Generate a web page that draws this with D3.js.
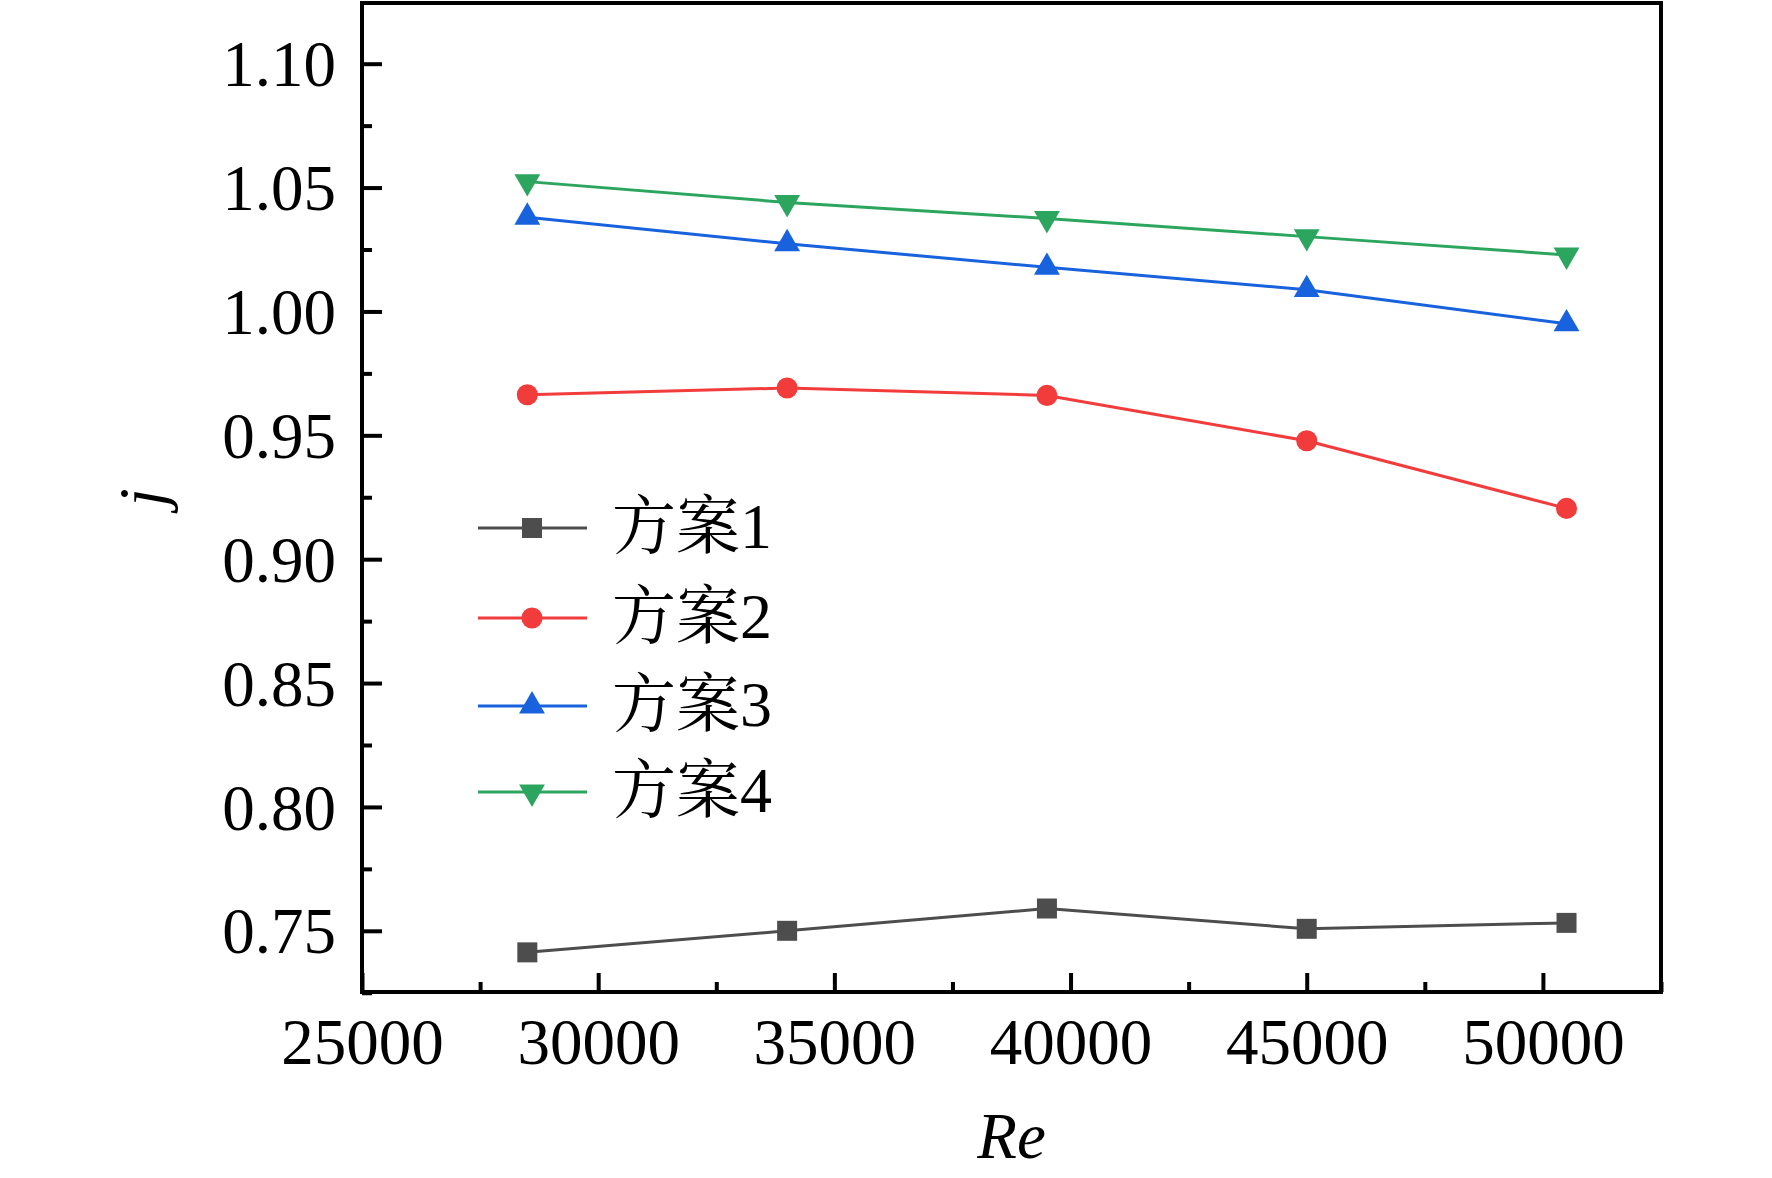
<!DOCTYPE html>
<html>
<head>
<meta charset="utf-8">
<script src="https://cdn.jsdelivr.net/npm/d3@7/dist/d3.min.js"></script>
<style>
  html, body { margin: 0; padding: 0; background: #fff; }
  svg { display: block; }
  text { font-family: 'Liberation Serif', 'Times New Roman', 'Noto Serif CJK SC', 'Noto Sans CJK SC', serif; fill: #000; }
</style>
</head>
<body>
<script>
// ---- data ----
const reValues = [28500, 34000, 39500, 45000, 50500];
const seriesNames = ["方案1", "方案2", "方案3", "方案4"];
const scheme1 = [0.7413, 0.7500, 0.7590, 0.7508, 0.7532];
const scheme2 = [0.9664, 0.9691, 0.9661, 0.9478, 0.9205];
const scheme3 = [1.0380, 1.0273, 1.0178, 1.0088, 0.9950];
const scheme4 = [1.0524, 1.0440, 1.0375, 1.0302, 1.0228];
const xTicks = [25000, 30000, 35000, 40000, 45000, 50000];
const yTicks = [0.75, 0.80, 0.85, 0.90, 0.95, 1.00, 1.05, 1.10];
const xMinor = [27500, 32500, 37500, 42500, 47500, 52500];
const yMinor = [0.725, 0.775, 0.825, 0.875, 0.925, 0.975, 1.025, 1.075];

const W = 1772, H = 1178;
const L = 362, R = 1661, T = 3, B = 992;

const svg = d3.select("body").append("svg").attr("width", W).attr("height", H);

const x = d3.scaleLinear().domain([25000, 52500]).range([L, R]);
const y = d3.scaleLinear().domain([0.7253, 1.1245]).range([B, T]);

const colors = ["#4d4d4d", "#f23c3c", "#1862dd", "#2ca55e"];
const symbols = [
  d3.symbol().type(d3.symbolSquare).size(400),
  d3.symbol().type(d3.symbolCircle).size(350),
  d3.symbol().type(d3.symbolTriangle).size(290),
  d3.symbol().type(d3.symbolTriangle).size(290)
];
const rotations = [0, 0, 0, 180];
const allSeries = [scheme1, scheme2, scheme3, scheme4];

// ---- series ----
const line = d3.line().x((d, i) => x(reValues[i])).y(d => y(d));
allSeries.forEach((vals, si) => {
  const g = svg.append("g");
  g.append("path").datum(vals)
    .attr("d", line)
    .attr("fill", "none")
    .attr("stroke", colors[si])
    .attr("stroke-width", 3);
  g.selectAll("path.m").data(vals).enter().append("path")
    .attr("class", "m")
    .attr("d", symbols[si])
    .attr("fill", colors[si])
    .attr("transform", (d, i) => `translate(${x(reValues[i])},${y(d)}) rotate(${rotations[si]})`);
});

// ---- axes ----
const xAxis = d3.axisBottom(x).tickValues(xTicks).tickSize(-19).tickPadding(0).tickFormat(d3.format("d"));
const gx = svg.append("g").attr("transform", `translate(0,${B})`).call(xAxis);
gx.select(".domain").remove();
gx.selectAll(".tick line").attr("stroke", "#000").attr("stroke-width", 4);
gx.selectAll(".tick text").attr("font-size", 65).attr("dy", null).attr("y", 72);

const xAxisMinor = d3.axisBottom(x).tickValues(xMinor).tickSize(-10).tickFormat("");
const gxm = svg.append("g").attr("transform", `translate(0,${B})`).call(xAxisMinor);
gxm.select(".domain").remove();
gxm.selectAll(".tick line").attr("stroke", "#000").attr("stroke-width", 4);

const yAxis = d3.axisLeft(y).tickValues(yTicks).tickSize(-20).tickPadding(0).tickFormat(d3.format(".2f"));
const gy = svg.append("g").attr("transform", `translate(${L},0)`).call(yAxis);
gy.select(".domain").remove();
gy.selectAll(".tick line").attr("stroke", "#000").attr("stroke-width", 4);
gy.selectAll(".tick text").attr("font-size", 65).attr("x", -26).attr("dy", "0.34em");

const yAxisMinor = d3.axisLeft(y).tickValues(yMinor).tickSize(-10).tickFormat("");
const gym = svg.append("g").attr("transform", `translate(${L},0)`).call(yAxisMinor);
gym.select(".domain").remove();
gym.selectAll(".tick line").attr("stroke", "#000").attr("stroke-width", 4);

// frame
svg.append("rect")
  .attr("x", L).attr("y", T).attr("width", R - L).attr("height", B - T)
  .attr("fill", "none").attr("stroke", "#000").attr("stroke-width", 4);

// axis titles
svg.append("text").attr("x", (L + R) / 2).attr("y", 1158)
  .attr("text-anchor", "middle").attr("font-size", 65).attr("font-style", "italic").text("Re");
svg.append("text").attr("transform", `translate(164,${(T + B) / 2}) rotate(-90)`)
  .attr("text-anchor", "middle").attr("font-size", 65).attr("font-style", "italic").text("j");

// ---- legend ----
const legendRows = [528, 618, 706, 792];
seriesNames.forEach((name, si) => {
  const g = svg.append("g").attr("transform", `translate(0,${legendRows[si]})`);
  g.append("line").attr("x1", 478).attr("x2", 587).attr("y1", 0).attr("y2", 0)
    .attr("stroke", colors[si]).attr("stroke-width", 3);
  g.append("path").attr("d", symbols[si]).attr("fill", colors[si])
    .attr("transform", `translate(532,0) rotate(${rotations[si]})`);
  g.append("text").attr("x", 612).attr("y", 20).attr("font-size", 64).text(name);
});
</script>
</body>
</html>
